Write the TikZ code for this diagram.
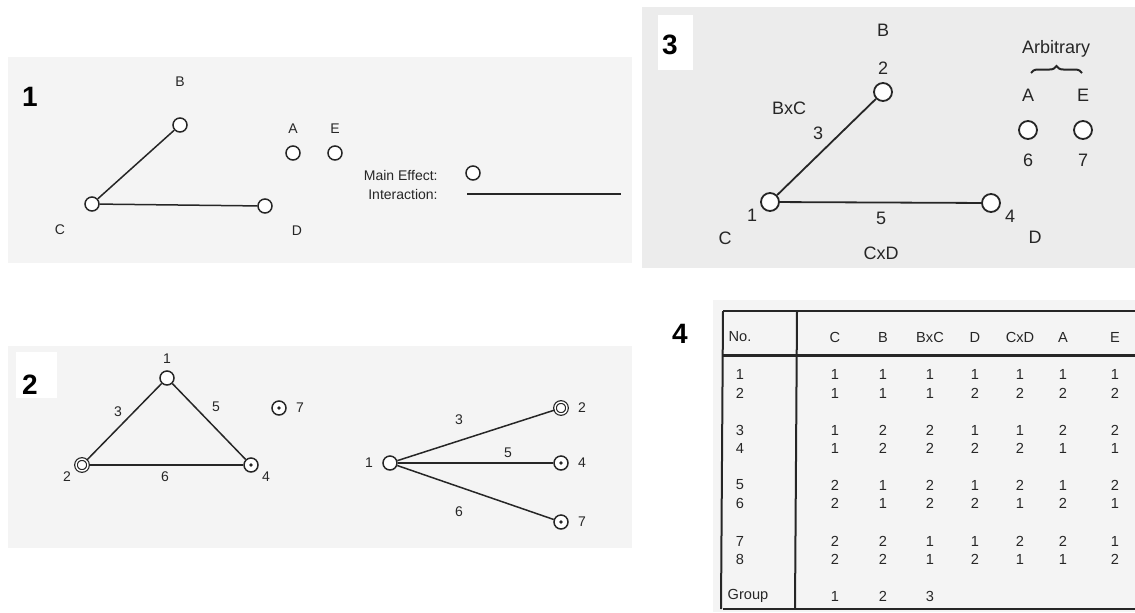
\documentclass[tikz,border=0pt]{standalone}
\usepackage{fontspec}
\setmainfont{Liberation Sans}
\usetikzlibrary{positioning, decorations.pathreplacing, calc}
\definecolor{scanbg}{gray}{0.955}
\definecolor{scandark}{gray}{0.925}
\definecolor{ink}{gray}{0.15}

\begin{document}
\begin{tikzpicture}[x=0.5pt, y=-0.5pt, line width=0.75pt, draw=ink,
    num/.style={font=\fontsize{14}{16}\selectfont\bfseries},
    lblA/.style={font=\fontsize{7}{8}\selectfont, text=ink},
    lblB/.style={font=\fontsize{9}{10}\selectfont, text=ink},
    lblT/.style={font=\fontsize{7.3}{8}\selectfont, text=ink},
    fac/.style={circle, draw=ink, line width=0.75pt, fill=white, inner sep=0pt, minimum size=7pt},
    facbig/.style={fac, line width=0.9pt, minimum size=9pt},
    dbl/.style={fac, line width=0.6pt, double=white, double distance=0.7pt, minimum size=6pt},
    dotc/.style={fac, path picture={\fill[ink] (path picture bounding box.center) circle (0.9pt);}}]
  \useasboundingbox (0,0) rectangle (1135,612);
  \fill[white] (0,0) rectangle (1135,612);

  % Panel 1: interaction graph
  \fill[scanbg] (8,57) rectangle (632,263);
  \node[num] (p1) at (30,97) {1};
  \node[fac] (B1) at (180,125) {};
  \node[fac] (C1) at (92,204) {};
  \node[fac] (D1) at (265,206) {};
  \node[fac] (A1) at (293,153) {};
  \node[fac] (E1) at (335,153) {};
  \draw (C1) -- (B1);
  \draw (C1) -- (D1);
  \node[lblA] (lB1) at (180,82) {B};
  \node[lblA] (lC1) at (60,230) {C};
  \node[lblA] (lD1) at (297,231) {D};
  \node[lblA] (lA1) at (293,129) {A};
  \node[lblA] (lE1) at (335,129) {E};
  % Legend
  \node[lblA, anchor=east] (main) at (445,175) {Main Effect:};
  \node[fac] (mainc) at (473,173) {};
  \node[lblA, anchor=east] (inter) at (445,194) {Interaction:};
  \coordinate (il) at (467,194);
  \coordinate (ir) at (621,194);
  \draw (il) -- (ir);

  % Panel 3: assigned columns
  \fill[scandark] (642,7) rectangle (1135,268);
  \fill[white] (658,15) rectangle (693,70);
  \node[num] (p3) at (670,45) {3};
  \node[facbig] (c2) at (883,92) {};
  \node[facbig] (c1) at (770,202) {};
  \node[facbig] (c4) at (991,203) {};
  \node[facbig] (c6) at (1028,130) {};
  \node[facbig] (c7) at (1083,130) {};
  \draw[line width=0.9pt] (c1) -- (c2);
  \draw[line width=0.9pt] (c1) -- (c4);
  \node[lblB] (lB3) at (883,30) {B};
  \node[lblB] (l23) at (883,68) {2};
  \node[lblB] (lBC) at (789,108) {BxC};
  \node[lblB] (l33) at (818,133) {3};
  \node[lblB] (l13) at (752,215) {1};
  \node[lblB] (lC3) at (725,238) {C};
  \node[lblB] (l53) at (881,218) {5};
  \node[lblB] (lCD) at (881,253) {CxD};
  \node[lblB] (l43) at (1010,216) {4};
  \node[lblB] (lD3) at (1035,237) {D};
  \node[lblB] (arb) at (1056,49) {Arbitrary};
  \node[lblB] (lA3) at (1028,95) {A};
  \node[lblB] (lE3) at (1083,95) {E};
  \node[lblB] (l63) at (1028,160) {6};
  \node[lblB] (l73) at (1083,160) {7};
  \coordinate (brl) at (1031,73);
  \coordinate (brr) at (1082,73);
  \draw[line width=1pt, decorate, decoration={brace, amplitude=3.5pt}] (brl) -- (brr);

  % Panel 2: linear graphs
  \fill[scanbg] (8,346) rectangle (632,548);
  \fill[white] (16,352) rectangle (57,398);
  \node[num] (p2) at (30,385) {2};
  \node[fac] (t1) at (167,378) {};
  \node[dbl] (t2) at (82,465) {};
  \node[dotc] (t4) at (251,465) {};
  \node[dotc] (t7) at (279,408) {};
  \draw (t1) -- (t2);
  \draw (t1) -- (t4);
  \draw (t2) -- (t4);
  \node[lblA] (lt1) at (167,359) {1};
  \node[lblA] (lt2) at (67,477) {2};
  \node[lblA] (lt4) at (266,477) {4};
  \node[lblA] (lt7) at (300,408) {7};
  \node[lblA] (lt3) at (118,412) {3};
  \node[lblA] (lt5) at (216,407) {5};
  \node[lblA] (lt6) at (165,477) {6};
  \node[fac] (f1) at (390,463) {};
  \node[dbl] (f2) at (561,408) {};
  \node[dotc] (f4) at (561,463) {};
  \node[dotc] (f7) at (561,522) {};
  \draw (f1) -- (f2);
  \draw (f1) -- (f4);
  \draw (f1) -- (f7);
  \node[lblA] (lf1) at (369,463) {1};
  \node[lblA] (lf2) at (582,408) {2};
  \node[lblA] (lf4) at (582,463) {4};
  \node[lblA] (lf7) at (582,522) {7};
  \node[lblA] (lf3) at (459,420) {3};
  \node[lblA] (lf5) at (508,453) {5};
  \node[lblA] (lf6) at (459,512) {6};

  % Panel 4: orthogonal array
  \node[num] (p4) at (680,334) {4};
  \fill[scanbg] (713,300) rectangle (1135,612);
  \draw[line width=1pt] (723,311) -- (1135,311);
  \draw[line width=1.5pt] (723,355) -- (1135,355);
  \draw[line width=1pt] (723,609) -- (1135,609);
  \draw[line width=1pt] (723,311) -- (721,609);
  \draw[line width=1pt] (797,311) -- (795,609);
  \node[lblT] (hNo) at (740,337) {No.};
  \foreach \h [count=\c] in {C,B,BxC,D,CxD,A,E}{
    \pgfmathsetmacro{\cx}{{835,883,930,975,1020,1063,1115}[\c-1]}
    \node[lblT] (h\c) at (\cx,337) {\h};
  }
  \foreach \r/\ry/\vals in {1/374/{1,1,1,1,1,1,1}, 2/393/{1,1,1,2,2,2,2},
      3/430/{1,2,2,1,1,2,2}, 4/448/{1,2,2,2,2,1,1},
      5/485/{2,1,2,1,2,1,2}, 6/503/{2,1,2,2,1,2,1},
      7/541/{2,2,1,1,2,2,1}, 8/559/{2,2,1,2,1,1,2}}{
    \node[lblT] (no\r) at (740,\ry) {\r};
    \foreach \v [count=\c] in \vals{
      \pgfmathsetmacro{\cx}{{835,883,930,975,1020,1063,1115}[\c-1]}
      \node[lblT] (r\r c\c) at (\cx,\ry) {\v};
    }
  }
  \node[lblT] (grp) at (748,596) {Group};
  \node[lblT] (g1) at (835,596) {1};
  \node[lblT] (g2) at (883,596) {2};
  \node[lblT] (g3) at (930,596) {3};
\end{tikzpicture}
\end{document}
